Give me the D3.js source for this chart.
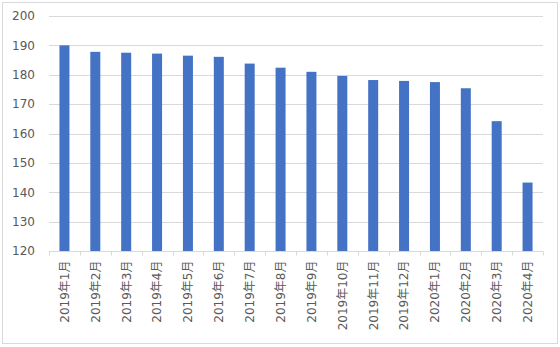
<!DOCTYPE html>
<html>
<head>
<meta charset="utf-8">
<script src="https://cdn.jsdelivr.net/npm/d3@7"></script>
<style>
  body { margin: 0; background: #fff; }
  svg { display: block; }
</style>
</head>
<body>
<svg id="chart"></svg>
<script>
'use strict';
// monthly values
var months = ['2019年1月', '2019年2月', '2019年3月', '2019年4月', '2019年5月', '2019年6月',
    '2019年7月', '2019年8月', '2019年9月', '2019年10月', '2019年11月', '2019年12月',
    '2020年1月', '2020年2月', '2020年3月', '2020年4月'];
var values = [190.0, 187.8, 187.5, 187.2, 186.5, 186.1, 183.8, 182.4,
    181.0, 179.6, 178.2, 177.9, 177.5, 175.4, 164.2, 143.3];
var yTicks = [120, 130, 140, 150, 160, 170, 180, 190, 200];

var canvasWidth = 560;
var canvasHeight = 347;
var margin = { top: 16, right: 17, bottom: 96, left: 49 };
var width = canvasWidth - margin.left - margin.right;
var height = canvasHeight - margin.top - margin.bottom;

var svg = d3.select('#chart')
    .attr('width', canvasWidth)
    .attr('height', canvasHeight);

// outer chart border
svg.append('rect')
    .attr('x', 2.5).attr('y', 2.5)
    .attr('width', canvasWidth - 5).attr('height', canvasHeight - 6)
    .attr('fill', '#fff')
    .attr('stroke', '#d9d9d9');

var g = svg.append('g')
    .attr('transform', 'translate(' + margin.left + ',' + margin.top + ')');

var xScale = d3.scaleBand()
    .domain(months)
    .range([0, width])
    .paddingInner(0.676)
    .paddingOuter(0.338);

var yScale = d3.scaleLinear()
    .domain([120, 200])
    .range([height, 0]);

// gridlines
g.selectAll('.grid')
    .data(yTicks)
    .enter()
    .append('line')
    .attr('class', 'grid')
    .attr('x1', 0)
    .attr('x2', width)
    .attr('y1', function(d) { return Math.round(yScale(d)) + 0.5; })
    .attr('y2', function(d) { return Math.round(yScale(d)) + 0.5; })
    .attr('stroke', '#d9d9d9');

// y labels
g.selectAll('.ylab')
    .data(yTicks)
    .enter()
    .append('text')
    .attr('class', 'ylab')
    .attr('x', -14)
    .attr('y', function(d) { return yScale(d); })
    .attr('dy', '0.36em')
    .attr('text-anchor', 'end')
    .attr('font-family', 'DejaVu Sans, sans-serif')
    .attr('font-size', '12px')
    .attr('fill', '#595959')
    .text(function(d) { return d; });

// bars
g.selectAll('.bar')
    .data(values)
    .enter()
    .append('rect')
    .attr('class', 'bar')
    .attr('x', function(d, i) { return xScale(months[i]); })
    .attr('width', xScale.bandwidth())
    .attr('y', function(d) { return yScale(d); })
    .attr('height', function(d) { return height - yScale(d); })
    .attr('fill', '#4472c4');

// x axis line and category boundary ticks
var step = xScale.step();
var axis = g.append('g')
    .attr('transform', 'translate(0,' + (Math.round(height) + 0.5) + ')');
axis.append('line')
    .attr('x1', 0).attr('x2', width)
    .attr('stroke', '#d9d9d9');
axis.selectAll('.tick')
    .data(d3.range(months.length + 1))
    .enter()
    .append('line')
    .attr('class', 'tick')
    .attr('x1', function(i) { return Math.round(i * step) + 0.5; })
    .attr('x2', function(i) { return Math.round(i * step) + 0.5; })
    .attr('y1', 0).attr('y2', 4)
    .attr('stroke', '#d9d9d9');

// rotated month labels
axis.selectAll('.xlab')
    .data(months)
    .enter()
    .append('text')
    .attr('class', 'xlab')
    .attr('transform', function(d) {
        return 'translate(' + (xScale(d) + xScale.bandwidth() / 2) + ',9) rotate(-90)';
    })
    .attr('dy', '0.36em')
    .attr('text-anchor', 'end')
    .attr('font-family', 'DejaVu Sans, Noto Sans CJK JP, sans-serif')
    .attr('font-size', '12px')
    .attr('fill', '#595959')
    .text(function(d) { return d; });
</script>
</body>
</html>
